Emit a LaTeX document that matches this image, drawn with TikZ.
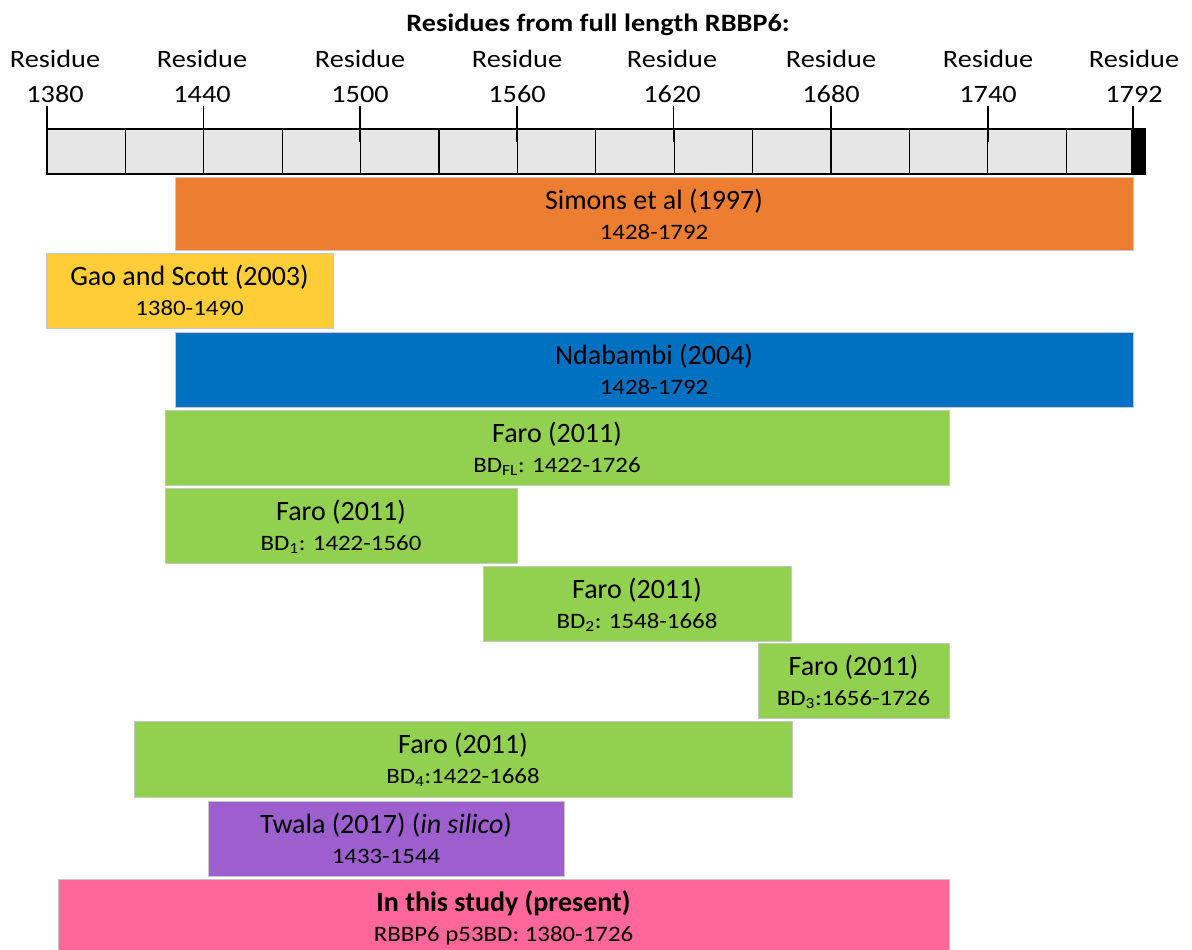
\documentclass[tikz,border=0pt]{standalone}
\usepackage{fontspec}
\setmainfont{Carlito}
\newfontfamily\widefont[FakeStretch=1.13]{Carlito}
\usetikzlibrary{calc}
\definecolor{cOrange}{HTML}{ED7D31}
\definecolor{cGold}{HTML}{FFCD38}
\definecolor{cBlue}{HTML}{0070C0}
\definecolor{cGreen}{HTML}{92D050}
\definecolor{cPurple}{HTML}{9D5FCE}
\definecolor{cPink}{HTML}{FF6699}
\definecolor{cRuler}{HTML}{E6E6E6}
\newcommand\rbar[8]{%
  \node[barbox, fill=#6, minimum width={#4-#2}, minimum height={#5-#3}, anchor=north west] (#1) at (#2,#3) {};
  \node[lineone] (#1-a) at ($(#1.north)+(0,32)$) {#7};
  \node[linetwo] (#1-b) at ($(#1.north)+(0,62)$) {#8};
}
\begin{document}
\begin{tikzpicture}[x=1pt,y=-1pt,
  barbox/.style={draw=black!22, line width=0.8pt, inner sep=0pt, outer sep=0pt},
  lineone/.style={anchor=base, inner sep=0pt, font=\fontsize{28}{31}\selectfont},
  linetwo/.style={anchor=base, inner sep=0pt, font=\widefont\fontsize{22}{25}\selectfont},
  rlabel/.style={anchor=base, inner sep=0pt, font=\widefont\fontsize{25}{28}\selectfont},
  tick/.style={line width=1.3pt},
  cell/.style={line width=1.3pt}]
\useasboundingbox (0,0) rectangle (1192,950);
% title
\node[anchor=base, inner sep=0pt, font=\widefont\fontsize{25}{28}\selectfont\bfseries] (title) at (598,32) {Residues from full length RBBP6:};
% ruler
\draw[fill=cRuler, line width=1.5pt] (47,129) rectangle (1132,174);
\foreach \k in {1,...,13}{
  \draw[cell] ({47+\k*78.4},129) -- ({47+\k*78.4},174);
}
\fill[black] (1132,128.3) rectangle (1146,174.7);
% ticks and labels
\foreach \xx/\num/\lx in {47/1380/55, 203.5/1440/202, 360/1500/360, 517/1560/517, 673.5/1620/672, 831/1680/831, 988/1740/988, 1133/1792/1134}{
  \draw[tick] (\xx,106) -- (\xx,142);
  \node[rlabel] (r\num) at (\lx,68) {Residue};
  \node[rlabel] (n\num) at (\lx,102.5) {\num};
}
% bars
\rbar{simons}{175}{177}{1133}{250}{cOrange}{Simons et al (1997)}{1428-1792}
\rbar{gao}{46}{253}{333}{328}{cGold}{Gao and Scott (2003)}{1380-1490}
\rbar{ndab}{175}{332}{1133}{407}{cBlue}{Ndabambi (2004)}{1428-1792}
\rbar{fl}{165}{410}{949}{485}{cGreen}{Faro (2011)}{BD\textsubscript{FL}: 1422-1726}
\rbar{bdone}{165}{488}{517}{563}{cGreen}{Faro (2011)}{BD\textsubscript{1}: 1422-1560}
\rbar{bdtwo}{483}{566}{791}{641}{cGreen}{Faro (2011)}{BD\textsubscript{2}: 1548-1668}
\rbar{bdthree}{758}{643}{949}{718}{cGreen}{Faro (2011)}{BD\textsubscript{3}:1656-1726}
\rbar{bdfour}{134}{721}{792}{797}{cGreen}{Faro (2011)}{BD\textsubscript{4}:1422-1668}
\rbar{twala}{208}{801}{564}{876}{cPurple}{Twala (2017) (\textit{in silico})}{1433-1544}
\rbar{study}{58}{879}{949}{951}{cPink}{\textbf{In this study (present)}}{RBBP6 p53BD: 1380-1726}
\end{tikzpicture}
\end{document}
